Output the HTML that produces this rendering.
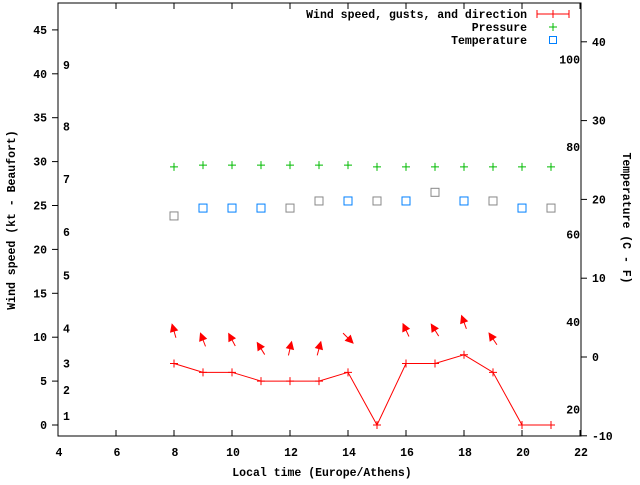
<!DOCTYPE html>
<html><head><meta charset="utf-8"><style>
body{margin:0;background:#fff}
svg text{font-family:"Liberation Mono",monospace;font-size:11.5px;font-weight:bold;fill:#000}
</style></head><body>
<svg id="chart" width="640" height="480" xmlns="http://www.w3.org/2000/svg">
<g id="axes"></g>
<g id="marks"></g>
<g>
<text x="527" y="18" text-anchor="end">Wind speed, gusts, and direction</text>
<path d="M537 14H569M537 10V18M569 10V18M553 10V18" stroke="#f00" fill="none"/>
<text x="527" y="31" text-anchor="end">Pressure</text>
<path d="M549 27H557M553 23V31" stroke="#0b0"/>
<text x="527" y="44" text-anchor="end">Temperature</text>
<rect x="549.5" y="36.5" width="7" height="7" fill="none" stroke="#0080ff"/>
</g>
<text x="322" y="476" text-anchor="middle">Local time (Europe/Athens)</text>
<text transform="translate(15,220) rotate(-90)" text-anchor="middle">Wind speed (kt - Beaufort)</text>
<text transform="translate(623,218) rotate(90)" text-anchor="middle">Temperature (C - F)</text>
</svg>
<script>
const hours=[8,9,10,11,12,13,14,15,16,17,18,19,20,21];
const wind=[7,6,6,5,5,5,6,0,7,7,8,6,0,0];
const gust=[10.7,9.7,9.7,8.7,8.7,8.7,9.9,null,10.8,10.8,11.7,9.8,null,null];
const dir=[344,339,332,328,13,15,135,null,335,328,340,326,null,null];
const pressure=[29.4,29.6,29.6,29.6,29.6,29.6,29.6,29.4,29.4,29.4,29.4,29.4,29.4,29.4];
const tempC=[17.9,18.9,18.9,18.9,18.9,19.8,19.8,19.8,19.8,20.9,19.8,19.8,18.9,18.9];
const tempColor=["#888","#0080ff","#0080ff","#0080ff","#888","#888","#0080ff","#888","#0080ff","#888","#0080ff","#888","#0080ff","#888"];
const xTicks=[4,6,8,10,12,14,16,18,20,22];
const yTicks=[0,5,10,15,20,25,30,35,40,45];
const y2Ticks=[-10,0,10,20,30,40];
const fTicks=[20,40,60,80,100];
const bftLabels=[1,2,3,4,5,6,7,8,9];
const bftKt=[1,4,7,11,17,22,28,34,41];

const L=58,R=581,T=3,B=436;
const X=h=>L+(h-4)*29;
const Y=k=>425-k*8.78;
const Y2=c=>357-c*7.88;
const NS="http://www.w3.org/2000/svg";
function mk(tag,parent,attrs){const e=document.createElementNS(NS,tag);for(const k in attrs)e.setAttribute(k,attrs[k]);parent.appendChild(e);return e;}
const ax=document.getElementById('axes'),mg=document.getElementById('marks');
let f=mk('rect',ax,{x:L,y:T,width:R-L,height:B-T,fill:'none',stroke:'#000'});


xTicks.forEach(h=>{
 let t=mk('path',ax,{d:`M${X(h)} ${B}v-6M${X(h)} ${T}v6`,stroke:'#000'});
 
 
 let l=mk('text',ax,{x:X(h)+1,y:B+20,'text-anchor':'middle'});l.textContent=h;
 
 
});
yTicks.forEach(k=>{
 let t=mk('path',ax,{d:`M${L} ${Y(k)}h-6`,stroke:'#000'});
 
 
 let l=mk('text',ax,{x:47,y:Y(k)+4,'text-anchor':'end'});l.textContent=k;
 
 
});
y2Ticks.forEach(c=>{
 let t=mk('path',ax,{d:`M${R} ${Y2(c)}h6`,stroke:'#000'});
 
 
 let l=mk('text',ax,{x:592,y:Y2(c)+4});l.textContent=c;
 
 
});
fTicks.forEach(F=>{
 let l=mk('text',ax,{x:580,y:Y2((F-32)*5/9)+4,'text-anchor':'end'});l.textContent=F;
 
 
});
bftLabels.forEach((b,i)=>{
 let l=mk('text',ax,{x:63,y:Y(bftKt[i])+4});l.textContent=b;
 
 
});
let line=mk('polyline',mg,{points:hours.map((h,i)=>X(h)+','+Y(wind[i])).join(' '),fill:'none',stroke:'#f00'});


hours.forEach((h,i)=>{
 let p=mk('path',mg,{d:`M${X(h)-4} ${Y(wind[i])}h8M${X(h)} ${Y(wind[i])-4}v8`,stroke:'#f00'});
 
 
 let g=mk('path',mg,{d:`M${X(h)-4} ${Y(pressure[i])}h8M${X(h)} ${Y(pressure[i])-4}v8`,stroke:'#0b0'});
 
 
 let s=mk('rect',mg,{x:X(h)-4,y:Y2(tempC[i])-4,width:8,height:8,fill:'none',stroke:tempColor[i]});
 
 
 if(gust[i]!==null){
  const a=dir[i]*Math.PI/180,dx=Math.sin(a),dy=-Math.cos(a);
  const cx=X(h),cy=Y(gust[i]);
  const x1=cx-dx*7,y1=cy-dy*7,x2=cx+dx*7,y2=cy+dy*7;
  const px=-dy,py=dx;
  let ar=mk('path',mg,{d:`M${x1} ${y1}L${x2} ${y2}`,stroke:'#f00'});
  
  
  let hd=mk('path',mg,{d:`M${x2} ${y2}L${x2-dx*7+px*3.5} ${y2-dy*7+py*3.5}L${x2-dx*7-px*3.5} ${y2-dy*7-py*3.5}Z`,fill:'#f00',stroke:'#f00'});
  
  
 }
});
</script>
</body></html>
